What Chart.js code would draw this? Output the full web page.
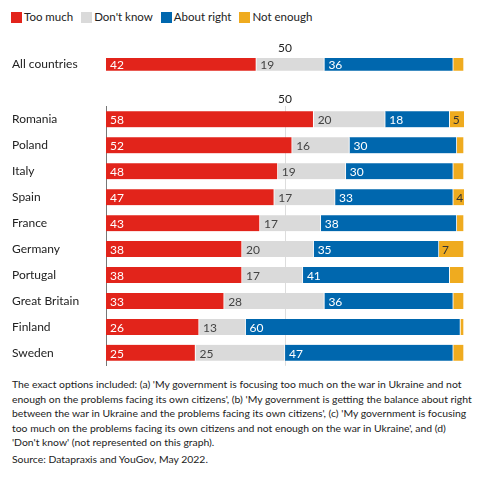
<!DOCTYPE html>
<html lang="en">
<head>
<meta charset="UTF-8">
<title>Government focus: war in Ukraine vs own citizens</title>
<script src="https://cdn.jsdelivr.net/npm/chart.js"></script>
<style>
    body {
        margin: 0;
        width: 480px;
        height: 479px;
        background: #fff;
        font-family: Lato, sans-serif;
        color: #222;
        position: relative;
        overflow: hidden;
    }
    #legend {
        position: absolute;
        left: 11px;
        top: 9px;
        display: flex;
        font-size: 11.5px;
        line-height: 16px;
    }
    #legend .item {
        display: flex;
        align-items: center;
        margin-right: 8px;
    }
    #legend .sw {
        width: 11px;
        height: 11px;
        margin-right: 2px;
    }
    .box {
        position: absolute;
        left: 0;
        width: 480px;
    }
    #box1 { top: 38px; height: 40px; }
    #box2 { top: 92px; height: 281px; }
    #note {
        position: absolute;
        left: 12px;
        top: 377px;
        width: 468px;
        font-size: 10.4px;
        line-height: 14.5px;
        white-space: nowrap;
    }
    #note p { margin: 0 0 2px 0; }
</style>
</head>
<body>
<div id="legend"></div>
<div class="box" id="box1"><canvas id="chartAll"></canvas></div>
<div class="box" id="box2"><canvas id="chartCountries"></canvas></div>
<div id="note">
    <p>The exact options included: (a) 'My government is focusing too much on the war in Ukraine and not<br>
    enough on the problems facing its own citizens', (b) 'My government is getting the balance about right<br>
    between the war in Ukraine and the problems facing its own citizens', (c) 'My government is focusing<br>
    too much on the problems facing its own citizens and not enough on the war in Ukraine', and (d)<br>
    'Don't know' (not represented on this graph).</p>
    <p>Source: Datapraxis and YouGov, May 2022.</p>
</div>

<script>
    // data
    const seriesNames = ['Too much', "Don't know", 'About right', 'Not enough'];
    const seriesColors = ['#e2241b', '#dadada', '#0067ae', '#efab1f'];
    const labelColors = ['#ffffff', '#444444', '#ffffff', '#333333'];

    const allLabel = ['All countries'];
    const allTooMuch = [42];
    const allDontKnow = [19];
    const allAboutRight = [36];
    const allNotEnough = [3];
    const allNotEnoughShown = [''];

    const countries = ['Romania', 'Poland', 'Italy', 'Spain', 'France', 'Germany', 'Portugal', 'Great Britain', 'Finland', 'Sweden'];
    const tooMuch = [58, 52, 48, 47, 43, 38, 38, 33, 26, 25];
    const dontKnow = [20, 16, 19, 17, 17, 20, 17, 28, 13, 25];
    const aboutRight = [18, 30, 30, 33, 38, 35, 41, 36, 60, 47];
    const notEnough = [5, 2, 3, 4, 2, 7, 4, 3, 1, 3];
    // only some of the small segments carry a number in the original
    const notEnoughShown = ['5', '', '', '4', '', '7', '', '', '', ''];

    const xTicks = [50];

    // legend
    const legend = document.getElementById('legend');
    seriesNames.forEach((name, i) => {
        const item = document.createElement('div');
        item.className = 'item';
        item.innerHTML = '<span class="sw" style="background:' + seriesColors[i] + '"></span><span>' + name + '</span>';
        legend.appendChild(item);
    });

    // value labels at the start of each segment
    const segmentLabels = {
        id: 'segmentLabels',
        afterDatasetsDraw(chart) {
            const ctx = chart.ctx;
            const shown = chart.options.plugins.segmentLabels.lastShown;
            ctx.save();
            ctx.font = '12px Lato';
            ctx.textAlign = 'left';
            ctx.textBaseline = 'middle';
            chart.data.datasets.forEach((ds, i) => {
                chart.getDatasetMeta(i).data.forEach((bar, j) => {
                    const text = i === 3 ? shown[j] : String(ds.data[j]);
                    if (!text) return;
                    ctx.fillStyle = labelColors[i];
                    ctx.fillText(text, Math.min(bar.base, bar.x) + (i === 3 ? 3 : 4), bar.y + 1);
                });
            });
            ctx.restore();
        }
    };

    function makeChart(id, labels, values, shown, showGrid) {
        return new Chart(document.getElementById(id), {
            type: 'bar',
            data: {
                labels: labels,
                datasets: values.map((d, i) => ({
                    label: seriesNames[i],
                    data: d,
                    backgroundColor: seriesColors[i],
                    borderColor: 'rgba(255,255,255,0.75)',
                    borderWidth: { top: 0, bottom: 0, left: 0, right: 1 },
                    borderSkipped: false,
                    barThickness: 16
                }))
            },
            options: {
                indexAxis: 'y',
                responsive: true,
                maintainAspectRatio: false,
                animation: false,
                layout: { padding: { left: 12, right: 16, top: 0, bottom: 0 } },
                plugins: {
                    legend: { display: false },
                    tooltip: { enabled: false },
                    segmentLabels: { lastShown: shown }
                },
                scales: {
                    x: {
                        stacked: true,
                        position: 'top',
                        min: 0,
                        max: 100,
                        afterBuildTicks: (scale) => { scale.ticks = xTicks.map(v => ({ value: v })); },
                        ticks: { color: '#222', padding: showGrid ? 0 : 3, font: { family: 'Lato', size: 12 } },
                        grid: {
                            display: showGrid,
                            drawTicks: false,
                            color: '#dddddd',
                            lineWidth: 1
                        },
                        border: { display: false }
                    },
                    y: {
                        stacked: true,
                        afterFit: (scale) => { scale.width = 94; },
                        ticks: {
                            crossAlign: 'far',
                            color: '#222',
                            padding: 0,
                            font: { family: 'Lato', size: 12 }
                        },
                        grid: { display: false, drawTicks: false },
                        border: { display: showGrid, color: '#777', width: 1 }
                    }
                }
            },
            plugins: [segmentLabels]
        });
    }

    makeChart('chartAll', allLabel, [allTooMuch, allDontKnow, allAboutRight, allNotEnough], allNotEnoughShown, false);
    makeChart('chartCountries', countries, [tooMuch, dontKnow, aboutRight, notEnough], notEnoughShown, true);
</script>
</body>
</html>
